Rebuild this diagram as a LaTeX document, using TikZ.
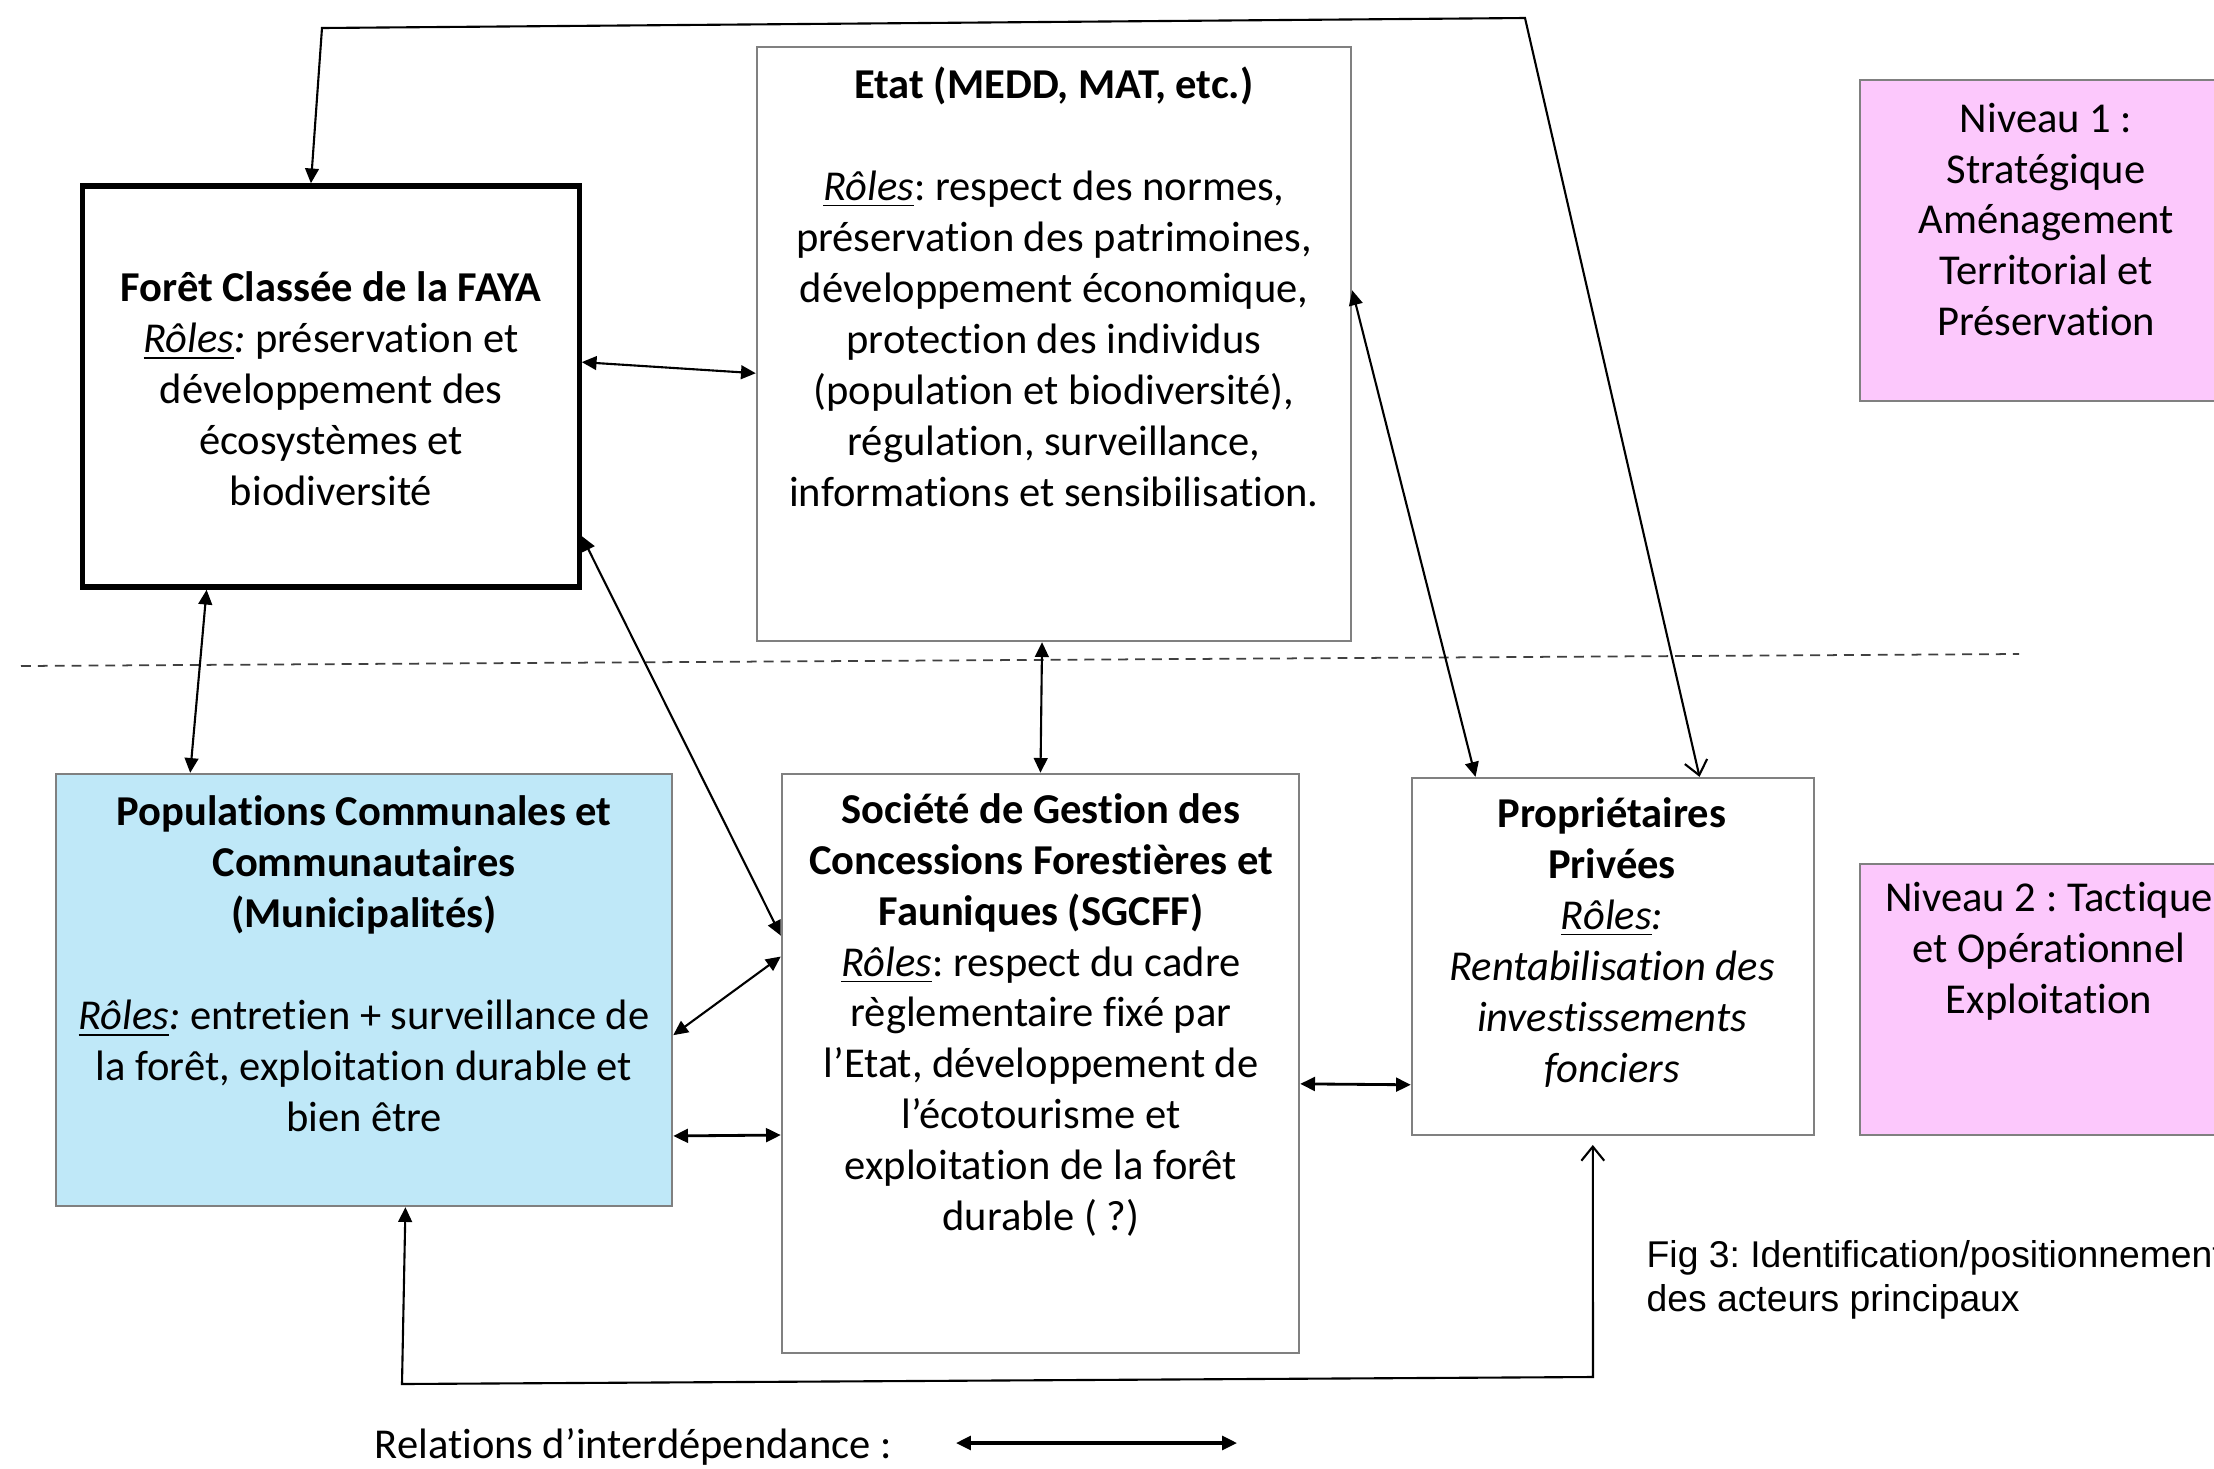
\documentclass[tikz,border=0pt]{standalone}
\usepackage{fontspec}
\setmainfont[Ligatures=NoCommon]{Carlito}
\newfontfamily\arialf[Ligatures=NoCommon]{Liberation Sans}
\usetikzlibrary{arrows.meta,calc}
\definecolor{pinkfill}{HTML}{FCC8FC}
\definecolor{bluefill}{HTML}{BFE8F8}
\definecolor{boxgray}{HTML}{808080}
\tikzset{
  box/.style={draw=boxgray, line width=0.6pt, inner sep=0pt},
  heavybox/.style={draw=black, line width=1.5pt, inner sep=0pt},
  txt/.style={align=center, inner sep=0pt, font=\fontsize{12.1}{14.5}\selectfont},
  tipF/.tip={Triangle[length=4.2pt,width=3.9pt]},
  tipO/.tip={Straight Barb[length=4pt,width=6.5pt]},
  rel/.style={tipF-tipF, line width=0.6pt},
  link/.style={line width=0.6pt, line join=miter},
  levelline/.style={draw=black!75, line width=0.5pt, dash pattern=on 2.8pt off 2pt},
}
\frenchspacing
\begin{document}
\frenchspacing
\begin{tikzpicture}[x=0.01cm,y=-0.01cm]
\path[use as bounding box] (0,0) rectangle (2214,1469);
\clip (0,0) rectangle (2214,1469);
\fill[white] (0,0) rectangle (2214,1469);

% boxes
\node[heavybox, minimum width=4.96cm, minimum height=4.01cm] (foret) at (331,386.5) {};
\node[box, minimum width=5.94cm, minimum height=5.94cm] (etat) at (1054,344) {};
\node[box, fill=pinkfill, minimum width=3.72cm, minimum height=3.21cm] (niv1) at (2046,240.5) {};
\node[box, fill=bluefill, minimum width=6.16cm, minimum height=4.32cm] (popu) at (364,990) {};
\node[box, minimum width=5.17cm, minimum height=5.79cm] (sgcff) at (1040.5,1063.5) {};
\node[box, minimum width=4.02cm, minimum height=3.57cm] (prop) at (1613,956.5) {};
\node[box, fill=pinkfill, minimum width=3.72cm, minimum height=2.71cm] (niv2) at (2046,999.5) {};

% texts
\node[txt] (foretT) at (331,389) {\textbf{Forêt Classée de la FAYA}\\
\textit{\underline{Rôles}:} préservation et\\
développement des\\
écosystèmes et\\
biodiversité};

\node[txt] (etatT) at (1054,286.5) {\textbf{Etat (MEDD, MAT, etc.)}\\[14.5pt]
\textit{\underline{Rôles}}: respect des normes,\\
préservation des patrimoines,\\
développement économique,\\
protection des individus\\
(population et biodiversité),\\
régulation, surveillance,\\
informations et sensibilisation.};

\node[txt] (niv1T) at (2046,219.5) {Niveau 1 :\\ Stratégique\\ Aménagement\\ Territorial et\\ Préservation};

\node[txt] (popuT) at (364,964) {\textbf{Populations Communales et}\\
\textbf{Communautaires}\\
\textbf{(Municipalités)}\\[14.5pt]
\textit{\underline{Rôles}:} entretien + surveillance de\\
la forêt, exploitation durable et\\
bien être};

\node[txt] (sgcffT) at (1041,1015) {\textbf{Société de Gestion des}\\
\textbf{Concessions Forestières et}\\
\textbf{Fauniques (SGCFF)}\\
\textit{\underline{Rôles}}: respect du cadre\\
règlementaire fixé par\\
l’Etat, développement de\\
l’écotourisme et\\
exploitation de la forêt\\
durable ( ?)};

\node[txt] (propT) at (1612,942.5) {\textbf{Propriétaires}\\
\textbf{Privées}\\
\textit{\underline{Rôles}:}\\
\textit{Rentabilisation des}\\
\textit{investissements}\\
\textit{fonciers}};

\node[txt] (niv2T) at (2049,951) {Niveau 2 : Tactique\\ et Opérationnel\\ Exploitation};

\node[anchor=west, align=left, inner sep=0pt, font=\arialf\fontsize{10.6}{12.5}\selectfont] (cap) at (1646,1280) {Fig 3: Identification/positionnement\\des acteurs principaux};

% level separator
\coordinate (dl1) at (21,666);
\coordinate (dl2) at (2019,654);
\draw[levelline] (dl1) -- (dl2);

% relations
\draw[rel] ($(foret.north east)!0.44!(foret.south east)$) -- ($(etat.north west)!0.549!(etat.south west)$);
\draw[rel] ($(foret.north east)!0.868!(foret.south east)$) -- ($(sgcff.north west)!0.28!(sgcff.south west)$);
\draw[rel] ($(foret.south west)!0.252!(foret.south east)$) -- ($(popu.north west)!0.219!(popu.north east)$);
\draw[rel] ($(etat.south west)!0.48!(etat.south east)$) -- ($(sgcff.north west)!0.50!(sgcff.north east)$);
\draw[rel] ($(etat.north east)!0.41!(etat.south east)$) -- ($(prop.north west)!0.16!(prop.north east)$);
\draw[rel] ($(popu.north east)!0.604!(popu.south east)$) -- ($(sgcff.north west)!0.316!(sgcff.south west)$);
\draw[rel, line width=0.8pt] ($(popu.north east)!0.836!(popu.south east)$) -- ($(sgcff.north west)!0.623!(sgcff.south west)$);
\draw[rel, line width=0.8pt] ($(sgcff.north east)!0.535!(sgcff.south east)$) -- ($(prop.north west)!0.857!(prop.south west)$);

% top loop
\coordinate (t1) at (322,28);
\coordinate (t2) at (1525,18);
\draw[link, tipF-tipO] ($(foret.north west)!0.46!(foret.north east)$) -- (t1) -- (t2) -- ($(prop.north west)!0.714!(prop.north east)$);

% bottom loop
\coordinate (b1) at (402,1384);
\coordinate (b2) at (1593,1377);
\draw[link, tipF-tipO, shorten >=2.5pt] ($(popu.south west)!0.567!(popu.south east)$) -- (b1) -- (b2) -- ($(prop.south west)!0.45!(prop.south east)$);

% legend
\node[txt, anchor=west] (legT) at (374,1447) {Relations d’interdépendance :};
\coordinate (leg1) at (956,1443);
\coordinate (leg2) at (1237,1443);
\draw[rel, line width=0.9pt] (leg1) -- (leg2);
\end{tikzpicture}
\end{document}
